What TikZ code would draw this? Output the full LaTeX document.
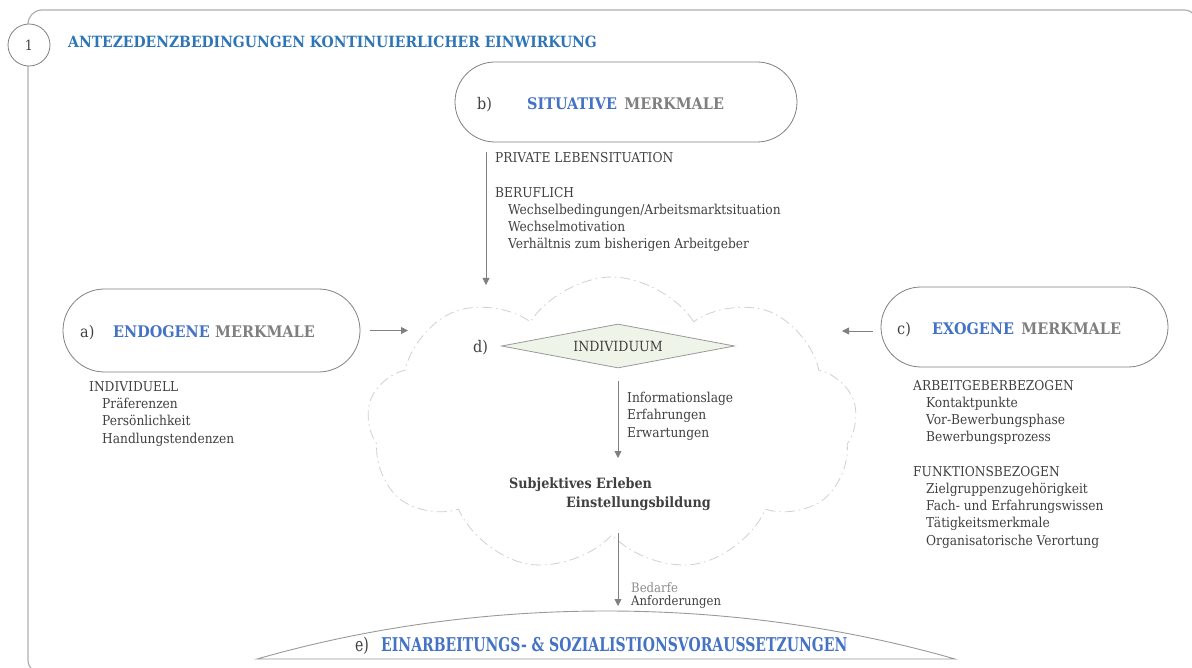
\documentclass[tikz,border=0pt]{standalone}
\usepackage{fontspec}
\setmainfont{DejaVu Serif Condensed}
\usetikzlibrary{arrows.meta,shapes.geometric,shapes.misc,shapes.symbols}

\definecolor{hblue}{HTML}{2E75B6}
\definecolor{kblue}{HTML}{4472C4}
\definecolor{mgray}{HTML}{7F7F7F}
\definecolor{tgray}{HTML}{404040}
\definecolor{lgray}{HTML}{808080}
\definecolor{fgray}{HTML}{AFAFAF}
\definecolor{cgray}{HTML}{D0D0D0}
\definecolor{dgreen}{HTML}{EEF4E8}

\newcommand{\lvl}{\hspace*{13pt}}

\begin{document}
\begin{tikzpicture}[x=1pt,y=-1pt]
  \tikzset{
    rim/.style={draw=fgray, line width=1.2pt},
    stadium/.style={rounded rectangle, draw=lgray, line width=0.8pt, inner sep=0pt},
    conn/.style={draw=lgray, line width=0.8pt, -{Triangle[length=7pt,width=7pt]}},
    % lists are placed by the baseline of their last line
    list/.style={text=tgray, font=\fontsize{13.6}{17.2}\selectfont, align=left, inner sep=0pt, anchor=base west},
    tag/.style={text=tgray, font=\fontsize{16}{18}\selectfont, inner sep=0pt, anchor=base west},
    key/.style={text=kblue, font=\bfseries\fontsize{16}{18}\selectfont, inner sep=0pt, anchor=base west},
    merk/.style={text=mgray, font=\bfseries\fontsize{16}{18}\selectfont, inner sep=0pt, anchor=base west},
  }
  \useasboundingbox (0,0) rectangle (1192,668);

  % frame of block 1
  \begin{scope}
    \clip (0,0) rectangle (1192,668);
    \draw[rim, rounded corners=14pt] (28,10) rectangle (1198,674);
  \end{scope}
  \node[circle, draw=lgray, fill=white, line width=0.8pt, minimum size=42pt, inner sep=0pt,
        text=tgray, font=\fontsize{14}{16}\selectfont] (one) at (29,45) {1};
  \node[anchor=base west, inner sep=0pt, text=hblue, font=\bfseries\fontsize{15.5}{18}\selectfont]
    (title) at (68,48) {ANTEZEDENZBEDINGUNGEN KONTINUIERLICHER EINWIRKUNG};

  % the individual
  \node[cloud, cloud puffs=9, cloud puff arc=115, aspect=1.65, draw=cgray, line width=0.8pt,
        dash pattern=on 10pt off 4pt on 1.5pt off 4pt,
        minimum width=490pt, minimum height=296pt] (cloud) at (612,425) {};
  \node[diamond, aspect=5.3, draw=lgray!80, fill=dgreen, line width=0.8pt, inner sep=0pt,
        minimum width=233pt, minimum height=44pt, text=tgray, font=\fontsize{14}{16}\selectfont]
    (ind) at (618,346) {INDIVIDUUM};
  \node[tag] (dl) at (473,353) {d)};

  % b) situative
  \node[stadium, minimum width=342pt, minimum height=80pt] (b) at (626,102) {};
  \node[tag] (bl) at (477,110) {b)};
  \node[key] (bk) at (527,110) {SITUATIVE};
  \node[merk] (bm) at ([xshift=7pt]bk.base east) {MERKMALE};
  \node[list] (bx) at (495,249) {PRIVATE LEBENSITUATION\\[17.2pt]
    BERUFLICH\\
    \lvl Wechselbedingungen/Arbeitsmarktsituation\\
    \lvl Wechselmotivation\\
    \lvl Verhältnis zum bisherigen Arbeitgeber};

  % a) endogene
  \node[stadium, minimum width=297pt, minimum height=83pt] (a) at (211.5,330.5) {};
  \node[tag] (al) at (80,338) {a)};
  \node[key] (ak) at (113,338) {ENDOGENE};
  \node[merk] (am) at ([xshift=5pt]ak.base east) {MERKMALE};
  \node[list] (ax) at (89,443) {INDIVIDUELL\\
    \lvl Präferenzen\\
    \lvl Persönlichkeit\\
    \lvl Handlungstendenzen};

  % c) exogene
  \node[stadium, minimum width=287pt, minimum height=80pt] (c) at (1024.5,327) {};
  \node[tag] (cl) at (897,335) {c)};
  \node[key] (ck) at (932,335) {EXOGENE};
  \node[merk] (cm) at ([xshift=7pt]ck.base east) {MERKMALE};
  \node[list] (cx) at (913,545) {ARBEITGEBERBEZOGEN\\
    \lvl Kontaktpunkte\\
    \lvl Vor-Bewerbungsphase\\
    \lvl Bewerbungsprozess\\[17.2pt]
    FUNKTIONSBEZOGEN\\
    \lvl Zielgruppenzugehörigkeit\\
    \lvl Fach- und Erfahrungswissen\\
    \lvl Tätigkeitsmerkmale\\
    \lvl Organisatorische Verortung};

  % from individual to attitude
  \node[list] (ix) at (627,437) {Informationslage\\ Erfahrungen\\ Erwartungen};
  \node[list, font=\bfseries\fontsize{14.2}{19}\selectfont] (subj) at (509,507)
    {Subjektives Erleben\\ \hspace*{57pt}Einstellungsbildung};

  % e) dome
  \draw[draw=lgray!80, line width=0.9pt] (257,659) .. controls (480,595) and (732,595) .. (955,659) -- cycle;
  \node[tag, font=\fontsize{19}{21}\selectfont] (el) at (355,651) {\scalebox{0.82}[1]{e)}};
  \node[key, font=\bfseries\fontsize{19}{21}\selectfont] (e) at (381,651)
    {\scalebox{0.82}[1]{EINARBEITUNGS- \& SOZIALISTIONSVORAUSSETZUNGEN}};
  \node[list, text=mgray!90, font=\fontsize{13}{14}\selectfont] (bed) at (631,592) {Bedarfe};
  \node[list, font=\fontsize{13}{14}\selectfont] (anf) at (631,605) {Anforderungen};

  % connectors
  \coordinate (bin) at (486,285);
  \coordinate (ain) at (408,330.5);
  \coordinate (cin) at (842,331);
  \coordinate (sin) at (618,458);
  \coordinate (sout) at (618,533);
  \coordinate (ein) at (618,606);
  \draw[conn] ([yshift=-10pt]b.south -| bin) -- (bin);
  \draw[conn] ([xshift=10pt]a.east) -- (ain);
  \draw[conn] ([xshift=-8pt]c.west |- cin) -- (cin);
  \draw[conn] ([yshift=-13pt]ind.south) -- (sin);
  \draw[conn] (sout) -- (ein);
\end{tikzpicture}
\end{document}
